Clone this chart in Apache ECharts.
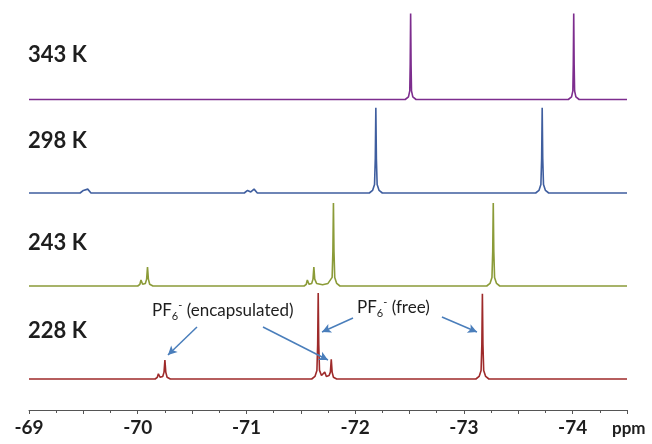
<!DOCTYPE html>
<html>
<head>
<meta charset="utf-8">
<script src="https://cdn.jsdelivr.net/npm/echarts@6/dist/echarts.min.js"></script>
<style>
  html, body { margin: 0; padding: 0; background: #fff; }
  #chart { width: 652px; height: 444px; }
</style>
</head>
<body>
<div id="chart"></div>
<script>
// axis range (ppm), drawn reversed
const ppmMin = -74.5;
const ppmMax = -69;
const temperatures = ["343 K", "298 K", "243 K", "228 K"];
const traceColors = ["#7d2d8e", "#3f5e9f", "#8b9b38", "#9e2a2a"];

const spec343 = [
  [-69, 0], [-72.46, 0], [-72.49, 0.03], [-72.502, 0.1], [-72.506, 0.4], [-72.51, 1],
  [-72.514, 0.4], [-72.518, 0.1], [-72.53, 0.03], [-72.56, 0],
  [-73.96, 0], [-73.99, 0.03], [-74.002, 0.1], [-74.006, 0.4], [-74.01, 1],
  [-74.014, 0.4], [-74.018, 0.1], [-74.03, 0.03], [-74.06, 0], [-74.5, 0]
];
const spec298 = [
  [-69, 0], [-69.47, 0], [-69.5, 0.03], [-69.515, 0.012], [-69.54, 0.045], [-69.57, 0],
  [-70.98, 0], [-71.01, 0.03], [-71.04, 0.012], [-71.07, 0.045], [-71.1, 0],
  [-72.13, 0], [-72.16, 0.03], [-72.178, 0.1], [-72.185, 0.4], [-72.19, 0.99],
  [-72.195, 0.4], [-72.202, 0.1], [-72.22, 0.03], [-72.25, 0],
  [-73.66, 0], [-73.69, 0.03], [-73.708, 0.1], [-73.715, 0.4], [-73.72, 0.99],
  [-73.725, 0.4], [-73.732, 0.1], [-73.75, 0.03], [-73.78, 0], [-74.5, 0]
];
const spec243 = [
  [-69, 0], [-70.0, 0], [-70.02, 0.02], [-70.03, 0.07], [-70.045, 0.02], [-70.07, 0.03],
  [-70.082, 0.08], [-70.09, 0.22], [-70.098, 0.08], [-70.11, 0.02], [-70.14, 0],
  [-71.53, 0], [-71.55, 0.02], [-71.56, 0.07], [-71.575, 0.02], [-71.6, 0.03],
  [-71.612, 0.08], [-71.62, 0.22], [-71.628, 0.08], [-71.645, 0.03], [-71.7, 0.015],
  [-71.75, 0.03], [-71.788, 0.1], [-71.795, 0.4], [-71.8, 0.965], [-71.805, 0.4],
  [-71.812, 0.1], [-71.83, 0.03], [-71.86, 0],
  [-73.21, 0], [-73.24, 0.03], [-73.258, 0.1], [-73.265, 0.4], [-73.27, 0.965],
  [-73.275, 0.4], [-73.282, 0.1], [-73.3, 0.03], [-73.33, 0], [-74.5, 0]
];
const spec228 = [
  [-69, 0], [-70.16, 0], [-70.18, 0.02], [-70.19, 0.06], [-70.205, 0.02], [-70.23, 0.03],
  [-70.242, 0.08], [-70.25, 0.22], [-70.258, 0.08], [-70.27, 0.02], [-70.3, 0],
  [-71.6, 0], [-71.63, 0.03], [-71.648, 0.1], [-71.655, 0.4], [-71.66, 1],
  [-71.665, 0.4], [-71.672, 0.1], [-71.69, 0.04], [-71.705, 0.04], [-71.72, 0.08],
  [-71.735, 0.03], [-71.76, 0.04], [-71.772, 0.08], [-71.78, 0.23], [-71.788, 0.08],
  [-71.8, 0.02], [-71.83, 0],
  [-73.11, 0], [-73.14, 0.03], [-73.158, 0.1], [-73.165, 0.4], [-73.17, 0.99],
  [-73.175, 0.4], [-73.182, 0.1], [-73.2, 0.03], [-73.23, 0], [-74.5, 0]
];
const spectra = [spec343, spec298, spec243, spec228];

// annotation arrows in the 228 K panel: [from, to] as [ppm, intensity]
const arrows228 = [
  [[-70.545, 0.605], [-70.278, 0.279]],
  [[-71.152, 0.605], [-71.75, 0.221]],
  [[-71.98, 0.709], [-71.695, 0.547]],
  [[-72.798, 0.721], [-73.12, 0.547]]
];

const baselines = [99.5, 193, 286, 379];
const panelH = 86;
const textColor = "#1e1e1e";
const font = "Lato, 'Open Sans', sans-serif";

const chart = echarts.init(document.getElementById("chart"));

const grids = baselines.map(b => ({ left: 29, width: 598, top: b - panelH, height: panelH }));

const xAxes = baselines.map((b, i) => {
  const last = i === baselines.length - 1;
  return {
    gridIndex: i,
    type: "value",
    inverse: true,
    min: ppmMin,
    max: ppmMax,
    interval: 0.5,
    show: last,
    offset: last ? 31 : 0,
    splitLine: { show: false },
    axisLine: { show: true, onZero: false, lineStyle: { color: "#555", width: 1 } },
    axisTick: { show: true, length: 4, lineStyle: { color: "#555" } },
    minorTick: { show: true, splitNumber: 2, length: 3, lineStyle: { color: "#555" } },
    axisLabel: {
      show: true,
      margin: 8,
      color: textColor,
      fontFamily: font,
      fontWeight: "bold",
      fontSize: 19,
      formatter: v => (Math.abs(v - Math.round(v)) < 1e-6 ? String(Math.round(v)) : "")
    }
  };
});

const yAxes = baselines.map((b, i) => ({
  gridIndex: i, type: "value", min: 0, max: 1, show: false
}));

const series = spectra.map((d, i) => {
  const s = {
    type: "line",
    xAxisIndex: i,
    yAxisIndex: i,
    data: d,
    showSymbol: false,
    clip: false,
    silent: true,
    lineStyle: { color: traceColors[i], width: 1.6 },
    itemStyle: { color: traceColors[i] }
  };
  if (i === 3) {
    s.markLine = {
      silent: true,
      symbol: ["none", "arrow"],
      symbolSize: [7, 9],
      label: { show: false },
      lineStyle: { color: "#4a7ebb", width: 1.5, type: "solid" },
      data: arrows228.map(a => [{ coord: a[0] }, { coord: a[1] }])
    };
  }
  return s;
});

const labelY = [55, 141, 243, 331];
const graphics = temperatures.map((t, i) => ({
  type: "text",
  x: 28,
  y: labelY[i],
  style: { text: t, fill: textColor, font: "bold 22px " + font, textAlign: "left", textVerticalAlign: "middle" }
}));

const rich = {
  m: { fontSize: 17, fontFamily: font, fill: textColor, lineHeight: 22 },
  sub: { fontSize: 11, fontFamily: font, fill: textColor, lineHeight: 11, verticalAlign: "bottom" },
  sup: { fontSize: 11, fontFamily: font, fill: textColor, lineHeight: 13, verticalAlign: "top" }
};
graphics.push(
  { type: "text", x: 152, y: 300, style: { text: "{m|PF}{sub|6}{sup|-}{m| (encapsulated)}", rich: rich, textAlign: "left", textVerticalAlign: "top" } },
  { type: "text", x: 357, y: 297, style: { text: "{m|PF}{sub|6}{sup|-}{m| (free)}", rich: rich, textAlign: "left", textVerticalAlign: "top" } },
  { type: "text", x: 612, y: 429, style: { text: "ppm", fill: textColor, font: "bold 17px " + font, textAlign: "left", textVerticalAlign: "middle" } }
);

chart.setOption({
  animation: false,
  grid: grids,
  xAxis: xAxes,
  yAxis: yAxes,
  series: series,
  graphic: graphics
});
</script>
</body>
</html>
